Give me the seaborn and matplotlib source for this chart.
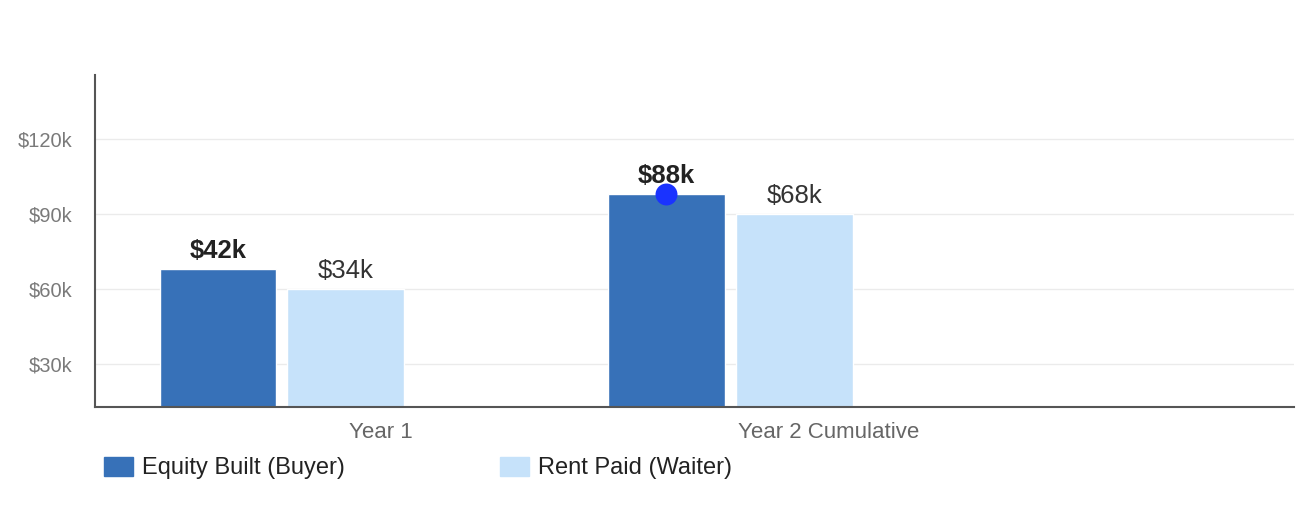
import matplotlib
matplotlib.use("Agg")
import matplotlib.pyplot as plt
import matplotlib.patches as mpatches
import pandas as pd
import seaborn as sns

# data
categories = ["Year 1", "Year 2 Cumulative"]
series = ["Equity Built (Buyer)", "Rent Paid (Waiter)"]
equity = [68, 98]      # bar heights in $k
rent = [60, 90]
equity_labels = ["$42k", "$88k"]
rent_labels = ["$34k", "$68k"]
y_ticks = [30, 60, 90, 120]
y_tick_labels = ["$30k", "$60k", "$90k", "$120k"]
marker_value = 98      # blue dot on the Year 2 equity bar

colors = ["#3771b8", "#c6e2fa"]

df = pd.DataFrame({
    "category": categories * 2,
    "series": [series[0]] * 2 + [series[1]] * 2,
    "value": equity + rent,
})

sns.set_style("white")
plt.rcParams["font.family"] = ["Liberation Sans", "DejaVu Sans"]

fig = plt.figure(figsize=(13.14, 5.29), dpi=100)
ax = fig.add_axes([95 / 1314, 1 - 407 / 529, 1199 / 1314, 332 / 529])

sns.barplot(data=df, x="category", y="value", hue="series", palette=colors,
            width=0.57, gap=0.09, ax=ax, legend=False, saturation=1)

ax.set_ylim(12.8, 145.6)
ax.set_xlim(-0.416, 2.256)
ax.set_yticks(y_ticks)
ax.set_yticklabels(y_tick_labels)
ax.tick_params(axis="y", labelsize=14.5, labelcolor="#7a7a7a", length=0, pad=16)
ax.set_xticks([0.22, 1.22])
ax.set_xticklabels(categories)
ax.tick_params(axis="x", labelsize=16, labelcolor="#666666", length=0, pad=11)
ax.set_xlabel("")
ax.set_ylabel("")
ax.grid(axis="y", color="#ebebeb", linewidth=1)
ax.set_axisbelow(True)
for side in ["top", "right"]:
    ax.spines[side].set_visible(False)
for side in ["left", "bottom"]:
    ax.spines[side].set_color("#555555")
    ax.spines[side].set_linewidth(1.5)

# value labels
containers = ax.containers
ax.bar_label(containers[0], labels=equity_labels, padding=4.5, fontsize=18.5,
             fontweight="bold", color="#222222")
ax.bar_label(containers[1], labels=rent_labels, padding=4.5, fontsize=18.5,
             color="#333333")

# dot on the second equity bar
bar = containers[0].patches[1]
ax.scatter([bar.get_x() + bar.get_width() / 2], [marker_value], s=250,
           color="#1a33ff", zorder=5, clip_on=False, linewidths=0)

handles = [mpatches.Patch(color=c, label=s) for c, s in zip(colors, series)]
fig.legend(handles=handles, loc="center left", ncol=2,
           bbox_to_anchor=(104 / 1314, 1 - 468 / 529), frameon=False,
           fontsize=17, handlelength=1.23, handleheight=0.85,
           handletextpad=0.38, columnspacing=6.55, borderpad=0,
           borderaxespad=0, labelcolor="#222222")

fig.savefig("out.png", dpi=100)
